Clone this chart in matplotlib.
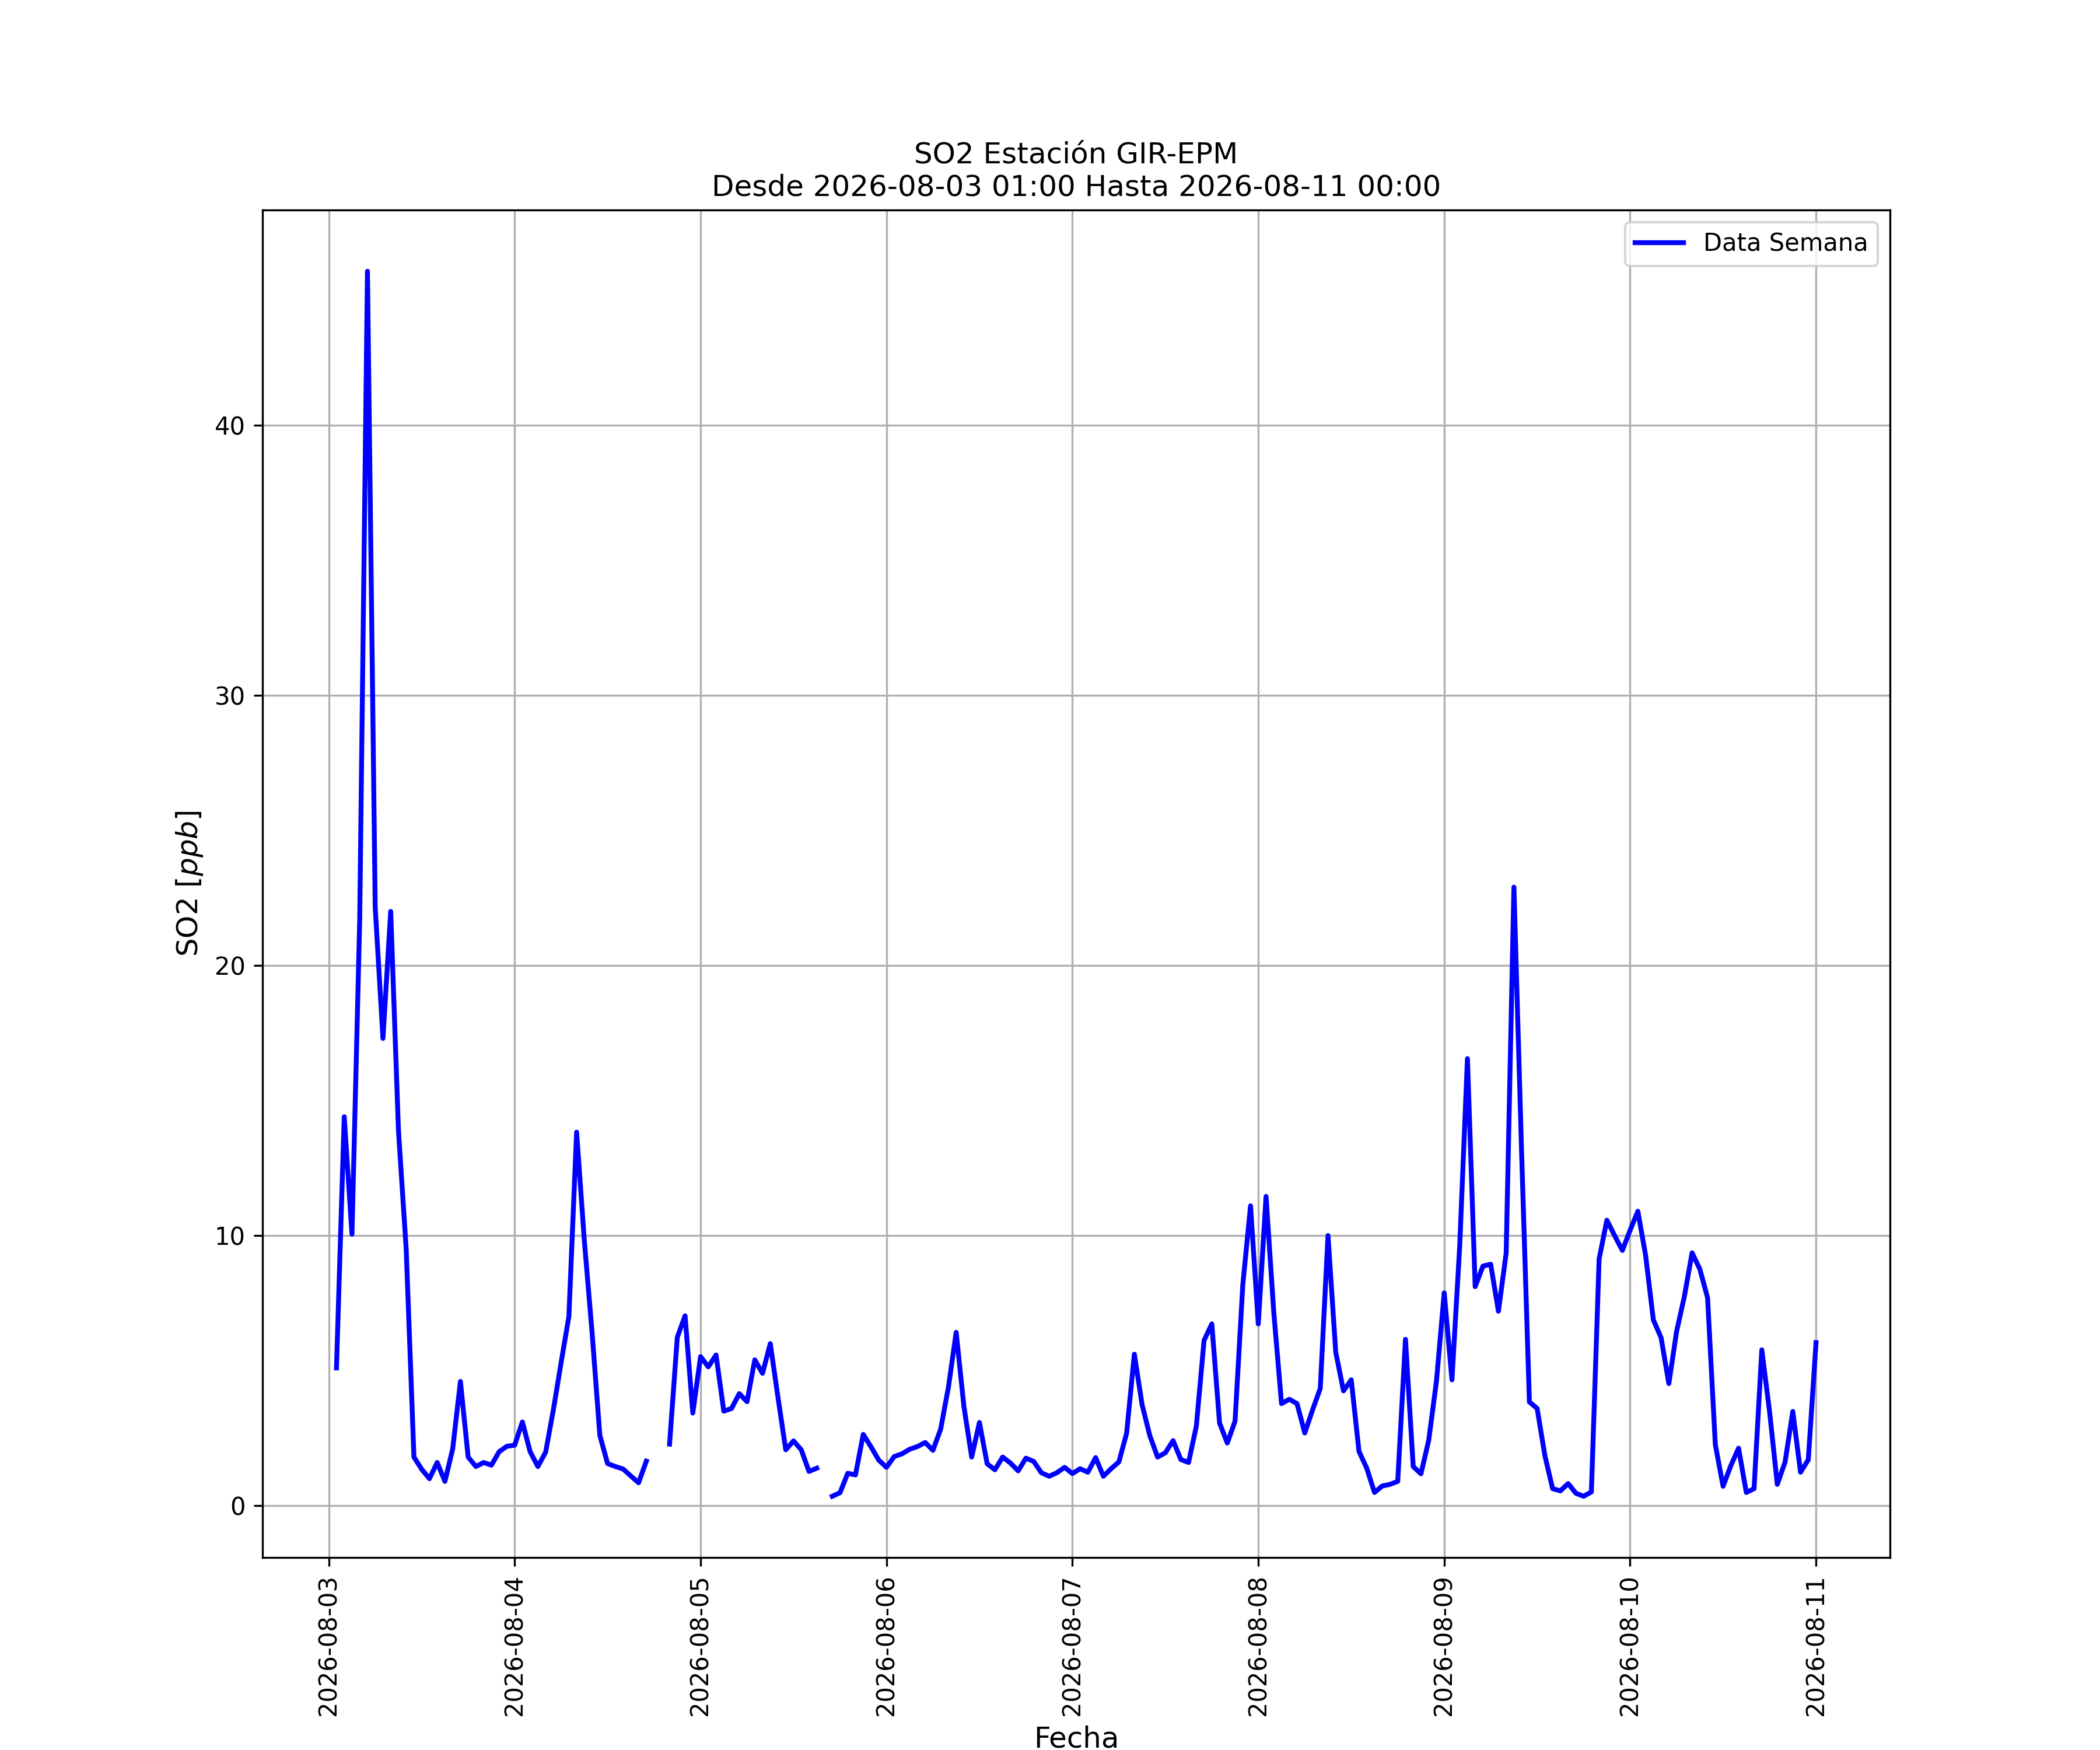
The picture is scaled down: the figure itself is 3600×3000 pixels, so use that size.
import numpy as np
import pandas as pd
import matplotlib
matplotlib.use("Agg")
import matplotlib.pyplot as plt
import matplotlib.dates as mdates

# Hourly SO2 values [ppb], 2026-08-03 01:00 -> 2026-08-11 00:00 (nan = missing)
nan = np.nan
so2_day1 = [5.1, 14.4, 10.05, 21.7, 45.7, 22.15, 17.3, 22.0, 13.9, 9.5, 1.8, 1.35,
            1.0, 1.6, 0.9, 2.1, 4.6, 1.8, 1.45, 1.6, 1.5, 2.0, 2.2, 2.24]
so2_day2 = [3.1, 2.0, 1.45, 1.98, 3.55, 5.3, 7.0, 13.83, 9.8, 6.4, 2.6, 1.56,
            1.45, 1.36, 1.1, 0.85, 1.65, nan, nan, 2.28, 6.24, 7.03, 3.43, 5.52]
so2_day3 = [5.14, 5.58, 3.5, 3.6, 4.15, 3.85, 5.4, 4.9, 6.0, 4.0, 2.07, 2.4,
            2.07, 1.27, 1.39, nan, 0.35, 0.48, 1.2, 1.14, 2.64, 2.18, 1.69, 1.42]
so2_day4 = [1.82, 1.92, 2.09, 2.19, 2.34, 2.05, 2.84, 4.39, 6.42, 3.67, 1.8, 3.08,
            1.55, 1.33, 1.8, 1.58, 1.29, 1.76, 1.64, 1.22, 1.09, 1.22, 1.42, 1.19]
so2_day5 = [1.37, 1.24, 1.78, 1.09, 1.37, 1.62, 2.68, 5.61, 3.74, 2.59, 1.8, 1.96,
            2.41, 1.71, 1.6, 2.94, 6.12, 6.73, 3.06, 2.32, 3.13, 8.17, 11.1, 6.73]
so2_day6 = [11.45, 7.16, 3.78, 3.94, 3.78, 2.69, 3.54, 4.34, 10.0, 5.68, 4.25, 4.66,
            2.01, 1.39, 0.49, 0.73, 0.79, 0.9, 6.16, 1.45, 1.18, 2.42, 4.61, 7.88]
so2_day7 = [4.66, 9.6, 16.55, 8.11, 8.87, 8.94, 7.2, 9.35, 22.9, 13.0, 3.84, 3.6,
            1.85, 0.63, 0.55, 0.82, 0.46, 0.35, 0.51, 9.14, 10.57, 10.0, 9.45, 10.2]
so2_day8 = [10.9, 9.27, 6.88, 6.22, 4.52, 6.45, 7.74, 9.36, 8.76, 7.7, 2.26, 0.72,
            1.48, 2.13, 0.49, 0.63, 5.77, 3.49, 0.79, 1.61, 3.49, 1.24, 1.7, 6.04]

inicio = "2026-08-03 01:00"
fin = "2026-08-11 00:00"
estacion = "GIR-EPM"

valores = (so2_day1 + so2_day2 + so2_day3 + so2_day4 +
           so2_day5 + so2_day6 + so2_day7 + so2_day8)
fechas = pd.date_range(inicio, fin, freq="h")
data = pd.Series(valores, index=fechas)

fig = plt.figure(figsize=(12, 10), dpi=300)
ax = fig.add_subplot(111)

ax.plot(data.index, data.values, color="b", linewidth=2, label="Data Semana")

ax.set_title("SO2 Estación " + estacion + "\nDesde " + inicio + " Hasta " + fin, fontsize=12)
ax.set_xlabel("Fecha", fontsize=12)
ax.set_ylabel("SO2 [$ppb$]", fontsize=12)

ax.xaxis.set_major_locator(mdates.DayLocator())
ax.xaxis.set_major_formatter(mdates.DateFormatter("%Y-%m-%d"))
plt.setp(ax.get_xticklabels(), rotation=90)

ax.grid(True)
ax.legend(loc="upper right")

fig.savefig("out.png", dpi=300)
